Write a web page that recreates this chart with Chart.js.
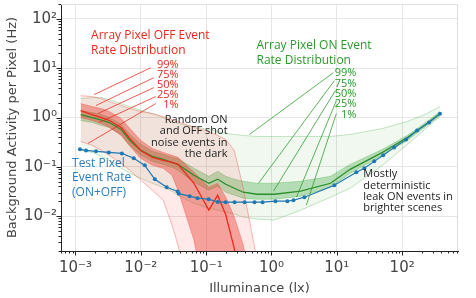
<!DOCTYPE html>
<html>
<head>
<meta charset="utf-8">
<script src="https://cdn.jsdelivr.net/npm/chart.js@4.4.1/dist/chart.umd.min.js"></script>
<style>
  html, body { margin: 0; padding: 0; background: #fff; }
  #wrap { position: relative; width: 476px; height: 298px; }
</style>
</head>
<body>
<div id="wrap"><canvas id="bgChart"></canvas></div>
<script>
// test pixel (ON+OFF) background rate
const testLux  = [0.00117, 0.00145, 0.00206, 0.00324, 0.00513, 0.0078, 0.0115, 0.0164, 0.0249, 0.0367, 0.038,
                  0.056, 0.074, 0.109, 0.150, 0.199, 0.272, 0.387, 0.55, 0.73, 1.15, 1.75, 2.17, 3.19,
                  9.16, 19.9, 26.3, 37.4, 51.3, 75.5, 115, 169, 258, 380];
const testRate = [0.226, 0.215, 0.206, 0.196, 0.187, 0.149, 0.107, 0.056, 0.0385, 0.0315, 0.0285,
                  0.0254, 0.0231, 0.022, 0.0194, 0.0192, 0.0192, 0.0192, 0.0192, 0.0192, 0.0201, 0.0201, 0.021, 0.0242,
                  0.0423, 0.0774, 0.0933, 0.129, 0.171, 0.248, 0.359, 0.546, 0.792, 1.2];

// array pixel ON distribution (percentiles)
const onLux = [0.0012, 0.0018, 0.0025, 0.0033, 0.005, 0.0068, 0.01, 0.015, 0.022, 0.03, 0.037, 0.065, 0.11,
               0.15, 0.2, 0.27, 0.37, 0.6, 1.1, 2.8, 8, 16, 50, 120, 240, 380];
const on99 = [2.42, 2.54, 2.54, 2.31, 1.92, 1.67, 1.385, 1.205, 1.0, 0.83, 0.756, 0.658, 0.572,
              0.521, 0.475, 0.454, 0.433, 0.413, 0.413, 0.413, 0.413, 0.454, 0.600, 0.83, 1.205, 1.67];
const on75 = [1.385, 1.26, 1.15, 1.0, 0.722, 0.454, 0.285, 0.206, 0.179, 0.156, 0.148, 0.0933, 0.0643,
              0.0811, 0.0643, 0.0559, 0.0509, 0.0464, 0.0464, 0.0509, 0.0643, 0.112, 0.226, 0.433, 0.83, 1.32];
const on50 = [1.15, 1.0, 0.89, 0.792, 0.572, 0.343, 0.215, 0.163, 0.142, 0.123, 0.112, 0.0673, 0.0464,
              0.0559, 0.0443, 0.0368, 0.0305, 0.0278, 0.0278, 0.032, 0.0464, 0.089, 0.196, 0.394, 0.756, 1.205];
const on25 = [0.87, 0.792, 0.689, 0.628, 0.454, 0.272, 0.171, 0.129, 0.112, 0.0977, 0.085, 0.0486, 0.0335,
              0.0404, 0.0305, 0.0266, 0.0231, 0.022, 0.022, 0.0254, 0.0385, 0.0739, 0.171, 0.343, 0.689, 1.10];
const on01 = [0.215, 0.196, 0.163, 0.135, 0.0933, 0.0739, 0.0586, 0.0464, 0.0385, 0.032, 0.0266, 0.0183, 0.0145,
              0.0132, 0.012, 0.011, 0.00955, 0.0087, 0.0083, 0.0132, 0.0242, 0.0368, 0.107, 0.285, 0.628, 1.05];

// array pixel OFF distribution (percentiles), falls off the bottom above ~0.3 lx
const offLux = [0.0012, 0.0018, 0.0025, 0.0033, 0.005, 0.0068, 0.01, 0.015, 0.022, 0.03, 0.037, 0.065, 0.11,
                0.15, 0.2, 0.27, 0.37, 0.6];
const off99 = [2.78, 2.66, 2.42, 2.10, 1.75, 1.52, 1.32, 1.205, 1.05, 0.91, 0.83, 0.628, 0.521,
               0.433, 0.359, 0.215, 0.037, 0.0013];
const off75 = [1.92, 1.67, 1.52, 1.32, 0.955, 0.600, 0.343, 0.236, 0.196, 0.171, 0.156, 0.0774, 0.0386,
               0.0464, 0.0242, 0.00955, 0.0026, 0.0001];
const off50 = [1.385, 1.15, 1.0, 0.87, 0.628, 0.377, 0.215, 0.156, 0.135, 0.123, 0.112, 0.0464, 0.0132,
               0.0266, 0.0105, 0.0022, 0.0002, 0.0001];
const off25 = [1.0, 0.87, 0.756, 0.628, 0.433, 0.26, 0.148, 0.107, 0.0933, 0.0673, 0.0335, 0.00327, 0.0001,
               0.0001, 0.0001, 0.0001, 0.0001, 0.0001];
const off01 = [0.327, 0.272, 0.215, 0.171, 0.118, 0.085, 0.0534, 0.0335, 0.021, 0.00658, 0.0026, 0.0001, 0.0001,
               0.0001, 0.0001, 0.0001, 0.0001, 0.0001];

// ticks
const xTicks = [1e-3, 1e-2, 1e-1, 1e0, 1e1, 1e2];
const xTickLabels = ["10⁻³", "10⁻²", "10⁻¹", "10⁰", "10¹", "10²"];
const yTicks = [1e-2, 1e-1, 1e0, 1e1, 1e2];
const yTickLabels = ["10⁻²", "10⁻¹", "10⁰", "10¹", "10²"];

const pctLabels = ["99%", "75%", "50%", "25%", "1%"];

// leader lines: [label end (lx, Hz), band end (lx, Hz)]
const offLeaders = [
  [[0.01422, 10.23], [0.001915, 2.91]],
  [[0.01579, 6.43], [0.002056, 1.75]],
  [[0.01579, 4.04], [0.002208, 1.205]],
  [[0.01694, 2.66], [0.002287, 0.792]],
  [[0.01694, 1.92], [0.001552, 0.298]]
];
const onLeaders = [
  [[8.84, 8.11], [0.461, 0.454]],
  [[9.16, 5.59], [0.633, 0.0464]],
  [[9.49, 3.51], [1.073, 0.032]],
  [[9.83, 2.20], [2.41, 0.0242]],
  [[9.83, 1.205], [3.42, 0.0167]]
];

const RED = "#e8281c";
const GREEN = "#2a9a2a";
const BLUE = "#2b7dc0";

const notes = [
  { lines: ["Array Pixel OFF Event", "Rate Distribution"], at: [0.00173, 45.4], align: "left", step: 15, color: RED, size: 12 },
  { lines: pctLabels, at: [0.038, 11.77], align: "right", step: 10, color: RED, size: 11 },
  { lines: ["Array Pixel ON Event", "Rate Distribution"], at: [0.59, 28.5], align: "left", step: 15, color: GREEN, size: 12 },
  { lines: pctLabels, at: [19.9, 7.92], align: "right", step: 10.3, color: GREEN, size: 11 },
  { lines: ["Random ON", "and OFF shot", "noise events in", "the dark"], at: [0.213, 0.911], align: "right", step: 11.5, color: "#222", size: 11 },
  { lines: ["Test Pixel", "Event Rate", "(ON+OFF)"], at: [0.000885, 0.1177], align: "left", step: 14.7, color: BLUE, size: 12 },
  { lines: ["Mostly", "deterministic", "leak ON events in", "brighter scenes"], at: [25.4, 0.0705], align: "left", step: 11.2, color: "#222", size: 11 }
];

const pts = (xs, ys) => xs.map((x, i) => ({ x: x, y: ys[i] }));

const overlay = {
  id: "overlay",
  beforeDatasetsDraw(chart) {
    const { ctx, chartArea: a } = chart;
    ctx.save();
    ctx.strokeStyle = "#dddddd";
    ctx.lineWidth = 1;
    ctx.beginPath();
    ctx.moveTo(a.left, a.top + 0.5);
    ctx.lineTo(a.right - 0.5, a.top + 0.5);
    ctx.lineTo(a.right - 0.5, a.bottom);
    ctx.stroke();
    ctx.restore();
  },
  afterDatasetsDraw(chart) {
    const { ctx, chartArea: a, scales: { x, y } } = chart;
    ctx.save();

    // leader lines
    ctx.lineWidth = 0.9;
    [[offLeaders, "rgba(232,40,28,0.85)"], [onLeaders, "rgba(42,154,42,0.85)"]].forEach(([set, col]) => {
      ctx.strokeStyle = col;
      set.forEach(([p, q]) => {
        ctx.beginPath();
        ctx.moveTo(x.getPixelForValue(p[0]), y.getPixelForValue(p[1]));
        ctx.lineTo(x.getPixelForValue(q[0]), y.getPixelForValue(q[1]));
        ctx.stroke();
      });
    });

    // text notes
    notes.forEach(n => {
      ctx.font = n.size + "px 'Open Sans'";
      ctx.fillStyle = n.color;
      ctx.textAlign = n.align;
      ctx.textBaseline = "middle";
      const px = x.getPixelForValue(n.at[0]);
      const py = y.getPixelForValue(n.at[1]);
      n.lines.forEach((t, i) => ctx.fillText(t, px, py + i * n.step));
    });

    // tick marks (major + minor)
    ctx.strokeStyle = "#222";
    ctx.lineWidth = 1;
    for (let d = -4; d <= 3; d++) {
      for (let k = 1; k <= 9; k++) {
        const v = k * Math.pow(10, d);
        const len = k === 1 ? 4.5 : 2.5;
        if (v >= x.min && v <= x.max) {
          const px = Math.round(x.getPixelForValue(v)) + 0.5;
          ctx.beginPath();
          ctx.moveTo(px, a.bottom);
          ctx.lineTo(px, a.bottom + len);
          ctx.stroke();
        }
        if (v >= y.min && v <= y.max) {
          const py = Math.round(y.getPixelForValue(v)) + 0.5;
          ctx.beginPath();
          ctx.moveTo(a.left, py);
          ctx.lineTo(a.left - len, py);
          ctx.stroke();
        }
      }
    }
    ctx.restore();
  }
};

const edgeRed = "rgba(245,80,70,0.5)";
const edgeGreen = "rgba(44,160,44,0.35)";

new Chart(document.getElementById("bgChart"), {
  type: "line",
  data: {
    datasets: [
      { data: pts(testLux, testRate), borderColor: "#1f77b4", backgroundColor: "#1f77b4", borderWidth: 1.2, pointRadius: 2, pointBorderWidth: 0, fill: false },
      { data: pts(offLux, off50), borderColor: "#f0281c", borderWidth: 1.3, fill: false },
      { data: pts(onLux, on50), borderColor: "#2a8f2a", borderWidth: 1.3, fill: false },
      { data: pts(offLux, off75), borderColor: edgeRed, borderWidth: 0.8, backgroundColor: "rgba(235,45,35,0.38)", fill: "+1" },
      { data: pts(offLux, off25), borderColor: edgeRed, borderWidth: 0.8, fill: false },
      { data: pts(offLux, off99), borderColor: edgeRed, borderWidth: 0.8, backgroundColor: "rgba(255,40,40,0.1)", fill: "+1" },
      { data: pts(offLux, off01), borderColor: edgeRed, borderWidth: 0.8, fill: false },
      { data: pts(onLux, on75), borderColor: edgeGreen, borderWidth: 0.8, backgroundColor: "rgba(44,160,44,0.3)", fill: "+1" },
      { data: pts(onLux, on25), borderColor: edgeGreen, borderWidth: 0.8, fill: false },
      { data: pts(onLux, on99), borderColor: edgeGreen, borderWidth: 0.8, backgroundColor: "rgba(44,160,44,0.07)", fill: "+1" },
      { data: pts(onLux, on01), borderColor: edgeGreen, borderWidth: 0.8, fill: false }
    ]
  },
  options: {
    responsive: true,
    maintainAspectRatio: false,
    animation: false,
    devicePixelRatio: 1,
    layout: { padding: { top: 3, right: 18, left: 0, bottom: 0 } },
    elements: { line: { tension: 0 }, point: { radius: 0 } },
    plugins: { legend: { display: false }, tooltip: { enabled: false } },
    scales: {
      x: {
        type: "logarithmic",
        min: 6.2e-4,
        max: 716,
        afterBuildTicks: s => { s.ticks = xTicks.map(v => ({ value: v })); },
        afterFit: s => { s.height = 47; s.paddingLeft = 0; s.paddingRight = 0; },
        grid: { color: "#e6e6e6", drawTicks: false },
        border: { color: "#222", width: 1 },
        ticks: {
          autoSkip: false, maxRotation: 0, padding: 8, color: "#444",
          font: { family: "DejaVu Sans", size: 15 },
          callback: (v, i) => xTickLabels[i]
        },
        title: { display: true, text: "Illuminance (lx)", color: "#444", font: { family: "DejaVu Sans", size: 13 }, padding: { top: 0, bottom: 2 } }
      },
      y: {
        type: "logarithmic",
        min: 0.00196,
        max: 201,
        afterBuildTicks: s => { s.ticks = yTicks.map(v => ({ value: v })); },
        afterFit: s => { s.width = 61; s.paddingTop = 0; s.paddingBottom = 0; },
        grid: { color: "#e6e6e6", drawTicks: false },
        border: { color: "#222", width: 1 },
        ticks: {
          autoSkip: false, padding: 4, color: "#444",
          font: { family: "DejaVu Sans", size: 15 },
          callback: (v, i) => yTickLabels[i]
        },
        title: { display: true, text: "Background Activity per Pixel (Hz)", color: "#444", font: { family: "DejaVu Sans", size: 13 }, padding: { top: 5, bottom: 0 } }
      }
    }
  },
  plugins: [overlay]
});
</script>
</body>
</html>
